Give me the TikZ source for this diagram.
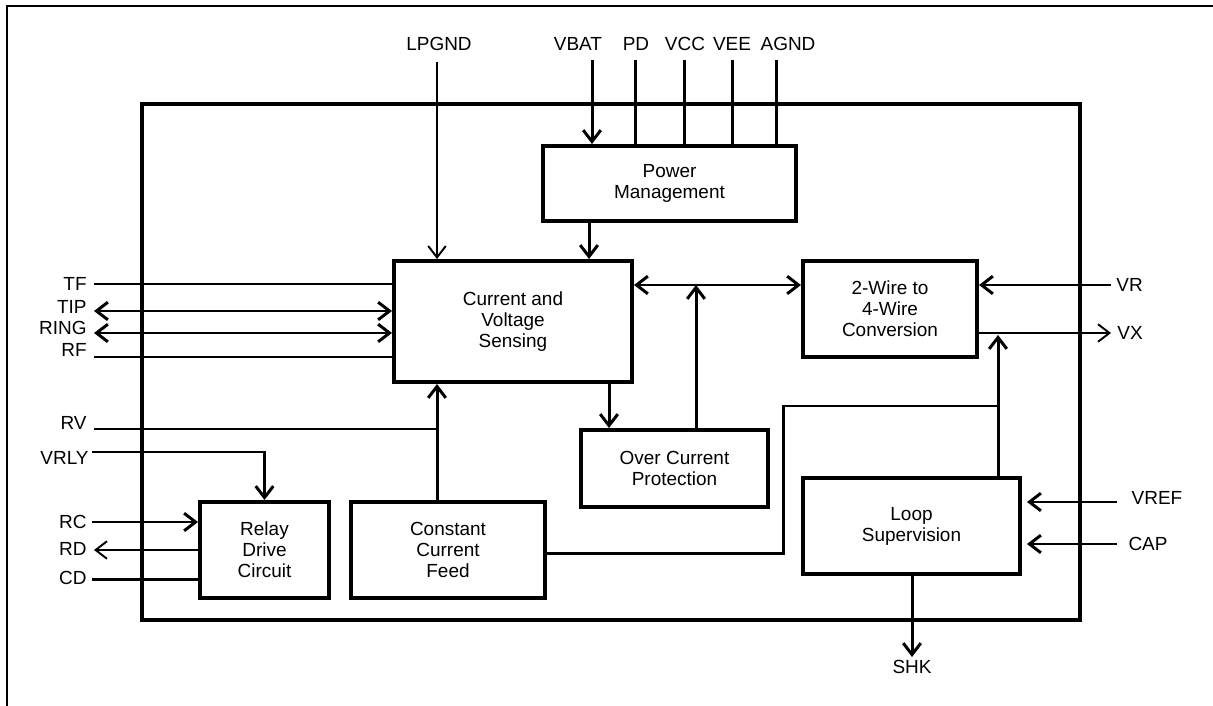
\documentclass[tikz,border=0pt]{standalone}
\usepackage{fontspec}
\setmainfont{Liberation Sans}
\usetikzlibrary{arrows.meta}
\begin{document}
\begin{tikzpicture}[x=0.02cm,y=-0.02cm,
  txt/.style={font=\fontsize{10.8}{12}\selectfont},
  blk/.style={draw,line width=2.3pt,inner sep=0pt,align=center,txt},
  lbl/.style={inner sep=0pt,txt},
  wire/.style={line width=1.7pt},
  thinwire/.style={line width=1.1pt},
  tip/.style={-{Straight Barb[length=6.5pt,width=10pt]}},
  arr/.style={wire,tip},
  darr/.style={wire,{Straight Barb[length=6.5pt,width=10pt]}-{Straight Barb[length=6.5pt,width=10pt]}}
]
\useasboundingbox (0,0) rectangle (1213,706);
% frames
\draw[line width=1.7pt] (7,706) -- (7,6) -- (1213,6);
\draw[line width=2.3pt] (142,104) rectangle (1080,620);

% blocks
\node[blk,minimum width=5.06cm,minimum height=1.5cm] (pm) at (669.5,183.5) {Power\\Management};
\node[blk,minimum width=4.76cm,minimum height=2.42cm] (cv) at (513,321.5) {Current and\\Voltage\\Sensing};
\node[blk,minimum width=3.48cm,minimum height=1.92cm] (conv) at (890,309) {2-Wire to\\4-Wire\\Conversion};
\node[blk,minimum width=3.74cm,minimum height=1.54cm] (ocp) at (674.5,468.5) {Over Current\\Protection};
\node[blk,minimum width=4.34cm,minimum height=1.92cm] (loop) at (911.5,526) {Loop\\Supervision};
\node[blk,minimum width=2.58cm,minimum height=1.92cm] (relay) at (264.5,550) {Relay\\Drive\\Circuit};
\node[blk,minimum width=3.88cm,minimum height=1.92cm] (ccf) at (448,550) {Constant\\Current\\Feed};

% top labels
\node[lbl] (lLPGND) at (439,44) {LPGND};
\node[lbl] (lVBAT) at (578,44) {VBAT};
\node[lbl] (lPD) at (636,44) {PD};
\node[lbl] (lVCC) at (685,44) {VCC};
\node[lbl] (lVEE) at (732,44) {VEE};
\node[lbl] (lAGND) at (788,44) {AGND};

% left labels
\node[lbl,anchor=east] (lTF) at (87,284) {TF};
\node[lbl,anchor=east] (lTIP) at (87,307) {TIP};
\node[lbl,anchor=east] (lRING) at (87,328) {RING};
\node[lbl,anchor=east] (lRF) at (87,350) {RF};
\node[lbl,anchor=east] (lRV) at (87,423) {RV};
\node[lbl,anchor=east] (lVRLY) at (89,458) {VRLY};
\node[lbl,anchor=east] (lRC) at (87,522) {RC};
\node[lbl,anchor=east] (lRD) at (87,549) {RD};
\node[lbl,anchor=east] (lCD) at (87,578) {CD};

% right labels
\node[lbl,anchor=west] (lVR) at (1116,285) {VR};
\node[lbl,anchor=west] (lVX) at (1117,333) {VX};
\node[lbl] (lVREF) at (1157,498) {VREF};
\node[lbl] (lCAP) at (1148,544) {CAP};
\node[lbl] (lSHK) at (912,667) {SHK};

% pin end coordinates
\coordinate (pLPGND) at (437,62);
\coordinate (pVBAT) at (592,60);
\coordinate (pPD) at (635,60);
\coordinate (pVCC) at (684,60);
\coordinate (pVEE) at (732,60);
\coordinate (pAGND) at (776,60);
\coordinate (pTF) at (94,284);
\coordinate (pTIP) at (94,311);
\coordinate (pRING) at (94,333);
\coordinate (pRF) at (94,357);
\coordinate (pRV) at (94,429);
\coordinate (pVRLY) at (92,452);
\coordinate (pRC) at (92,522);
\coordinate (pRD) at (94,550);
\coordinate (pCD) at (92,579);
\coordinate (pVR) at (1111,285);
\coordinate (pVX) at (1111,333);
\coordinate (pVREF) at (1117,502);
\coordinate (pCAP) at (1117,544);
\coordinate (pSHK) at (912,657);
\coordinate (xFeed) at (437,0);
\coordinate (xPM) at (589,0);
\coordinate (xOCd) at (609,0);
\coordinate (xOCu) at (696,0);
\coordinate (xLS) at (998,0);
\coordinate (xBend) at (783,406);
\coordinate (yBus) at (0,285);
\coordinate (yFeed) at (0,553);
\coordinate (yVX) at (0,335);

% top connectors
\draw[thinwire,tip] (pLPGND) -- (pLPGND |- cv.north);
\draw[arr] (pVBAT) -- (pVBAT |- pm.north);
\draw[wire] (pPD) -- (pPD |- pm.north);
\draw[wire] (pVCC) -- (pVCC |- pm.north);
\draw[wire] (pVEE) -- (pVEE |- pm.north);
\draw[wire] (pAGND) -- (pAGND |- pm.north);
\draw[arr] (xPM |- pm.south) -- (xPM |- cv.north);

% left connectors
\draw[thinwire] (pTF) -- (pTF -| cv.west);
\draw[darr] (pTIP) -- (pTIP -| cv.west);
\draw[darr] (pRING) -- (pRING -| cv.west);
\draw[thinwire] (pRF) -- (pRF -| cv.west);
\draw[thinwire] (pRV) -- (pRV -| xFeed);
\draw[arr] (xFeed |- ccf.north) -- (xFeed |- cv.south);
\draw[arr] (pVRLY) -| (relay.north);
\draw[arr] (pRC) -- (pRC -| relay.west);
\draw[thinwire,tip] (pRD -| relay.west) -- (pRD);
\draw[wire] (pCD) -- (pCD -| relay.west);

% middle connectors
\draw[arr] (xOCd |- cv.south) -- (xOCd |- ocp.north);
\draw[darr] (yBus -| cv.east) -- (yBus -| conv.west);
\draw[arr] (xOCu |- ocp.north) -- (xOCu |- yBus);
\draw[wire] (yFeed -| ccf.east) -| (xBend) -| (xLS |- loop.north);
\draw[arr] (xLS |- loop.north) -- (xLS |- yVX);

% right connectors
\draw[arr] (pVR) -- (pVR -| conv.east);
\draw[thinwire,tip] (pVX -| conv.east) -- (pVX);
\draw[arr] (pVREF) -- ([xshift=0.1cm]pVREF -| loop.east);
\draw[arr] (pCAP) -- ([xshift=0.1cm]pCAP -| loop.east);
\draw[arr] (loop.south -| pSHK) -- (pSHK);
\end{tikzpicture}
\end{document}
